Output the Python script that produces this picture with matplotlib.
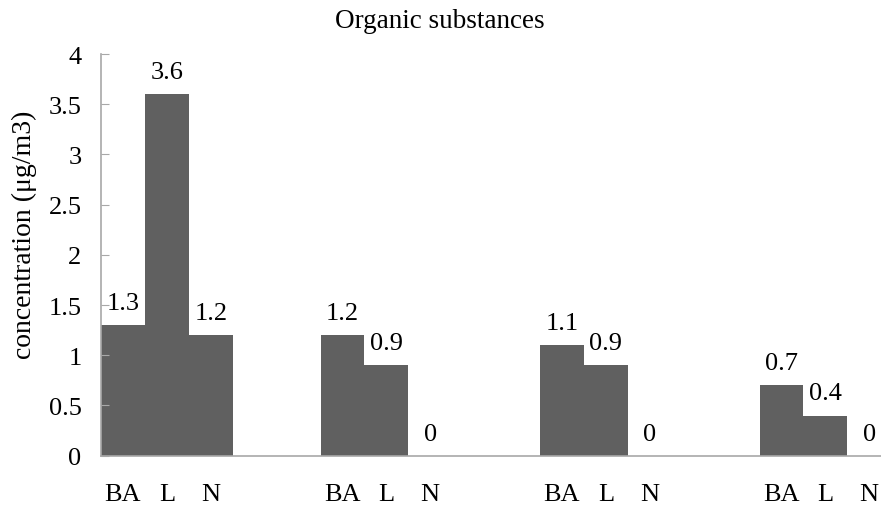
import matplotlib
matplotlib.use("Agg")
import matplotlib.pyplot as plt
import numpy as np

plt.rcParams['font.family'] = ['Liberation Serif', 'DejaVu Serif']

title = "Organic substances"
ylabel = "concentration (μg/m3)"
bar_labels = ["BA", "L", "N"]
n_groups = 4
values = [1.3, 3.6, 1.2,
          1.2, 0.9, 0.0,
          1.1, 0.9, 0.0,
          0.7, 0.4, 0.0]
value_texts = ["1.3", "3.6", "1.2", "1.2", "0.9", "0", "1.1", "0.9", "0", "0.7", "0.4", "0"]
yticks = [0, 0.5, 1, 1.5, 2, 2.5, 3, 3.5, 4]
ytick_labels = ["0", "0.5", "1", "1.5", "2", "2.5", "3", "3.5", "4"]

W, H = 881, 506
fig = plt.figure(figsize=(W / 100, H / 100), dpi=100)
ax = fig.add_axes([101 / W, (H - 456.7) / H, 1 - 101 / W, (456.7 - 55) / H])

pos = []
for g in range(n_groups):
    for j in range(3):
        pos.append(g * 5 + j + 0.5)
pos = np.array(pos)

ax.bar(pos, values, width=1.0, color="#606060", edgecolor="none")
for x, v, t in zip(pos, values, value_texts):
    ax.annotate(t, (x, v), xytext=(0, 8), textcoords="offset points",
                ha="center", va="bottom", fontsize=19)

ax.set_xlim(0, (W - 101) / 43.9)
ax.set_ylim(0, 4)
ax.set_yticks(yticks)
ax.set_yticklabels(ytick_labels, fontsize=19)
ax.set_xticks(pos)
ax.set_xticklabels(bar_labels * n_groups, fontsize=19)
ax.tick_params(axis="y", direction="in", length=6, color="#A8A8A8", pad=14)
ax.tick_params(axis="x", length=0, pad=20)
for s in ["top", "right"]:
    ax.spines[s].set_visible(False)
for s in ["left", "bottom"]:
    ax.spines[s].set_color("#A8A8A8")
    ax.spines[s].set_linewidth(1.2)

fig.text(440 / W, 1 - 21.5 / H, title, ha="center", va="center", fontsize=19.5)
fig.text(24 / W, 1 - 235 / H, ylabel, ha="center", va="center", rotation=90, fontsize=20)

fig.savefig("out.png", dpi=100)
